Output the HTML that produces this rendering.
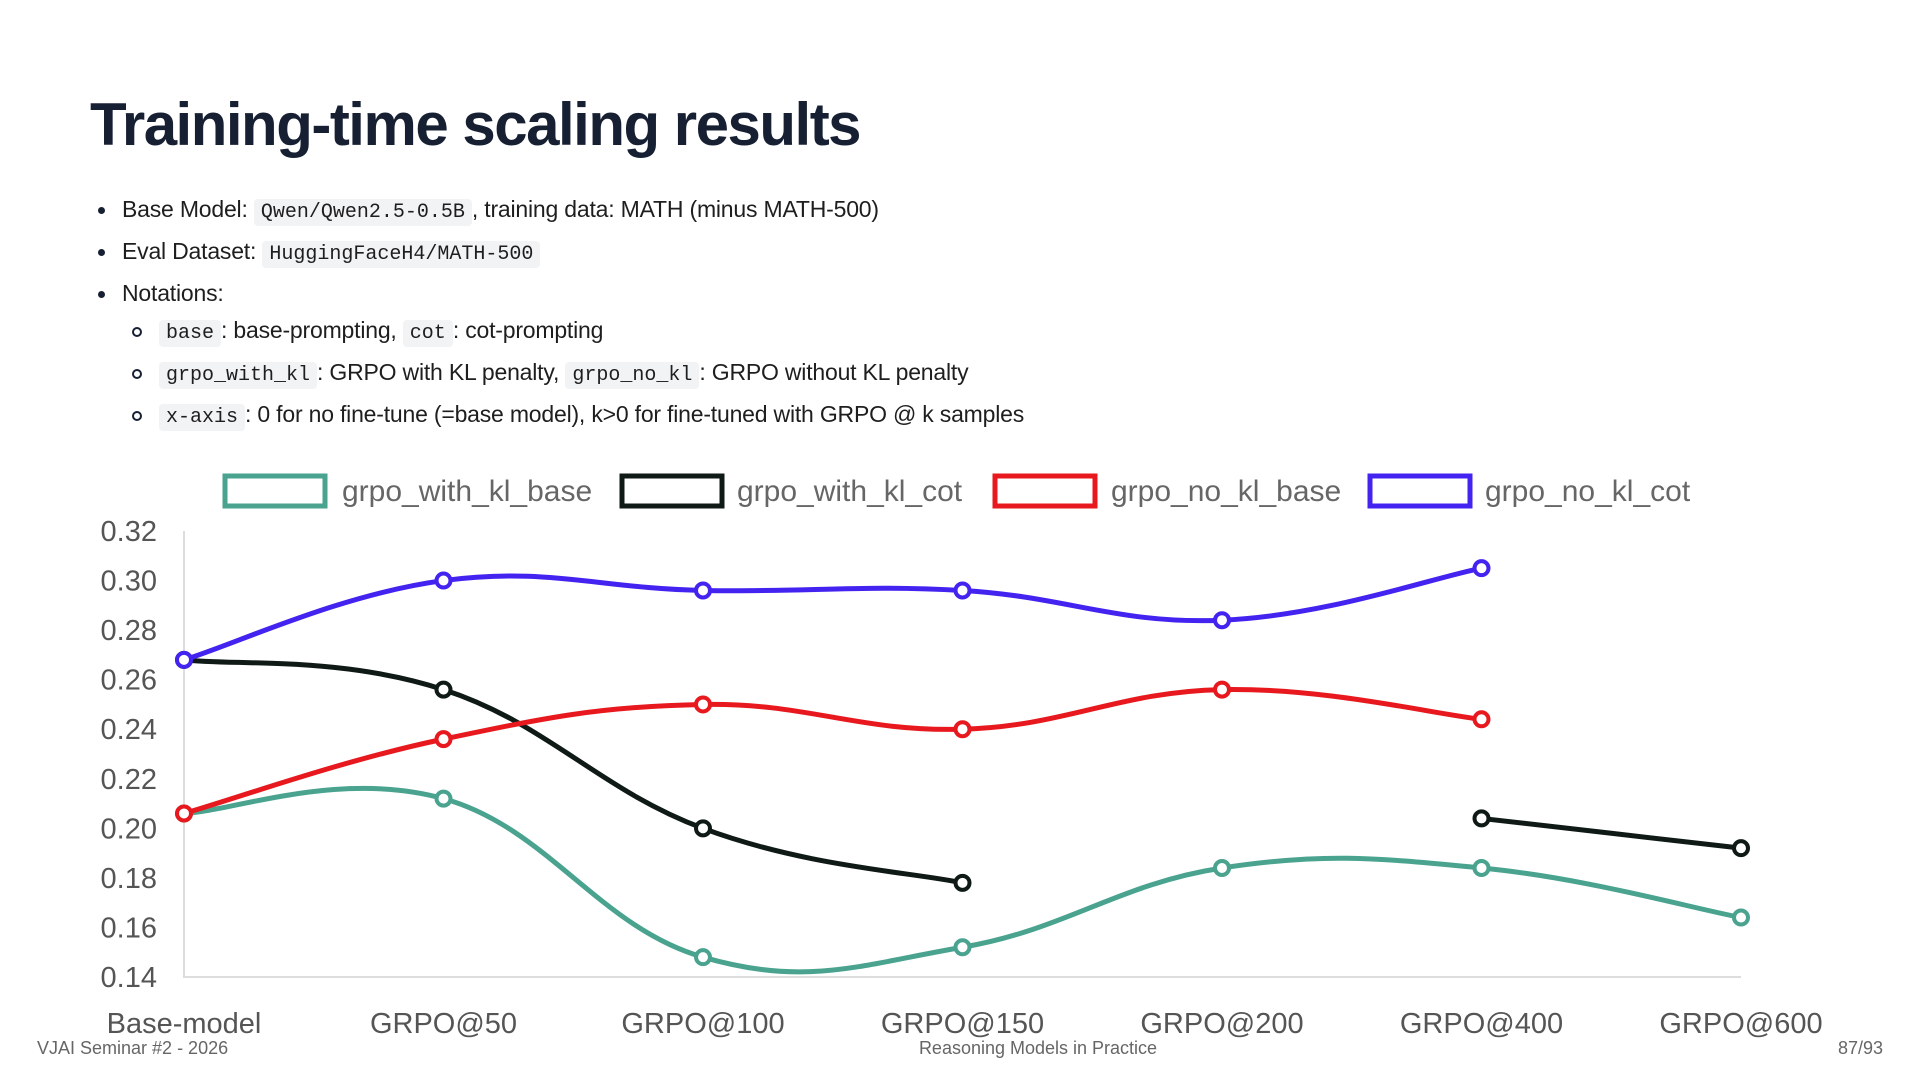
<!DOCTYPE html>
<html><head><meta charset="utf-8"><style>
body{margin:0;width:1920px;height:1080px;background:#fff;font-family:"Liberation Sans",sans-serif;position:relative;overflow:hidden}
h1{position:absolute;left:90px;top:90px;margin:0;font-size:60px;font-weight:bold;color:#172033;letter-spacing:-1.5px}
.b{position:absolute;font-size:23px;color:#1e1e1e;white-space:nowrap;letter-spacing:-0.2px}
code{font-family:"Liberation Mono",monospace;font-size:20px;background:#f1f3f5;padding:2px 7px;border-radius:4px;letter-spacing:0}
.dot{display:inline-block;width:7px;height:7px;border-radius:50%;background:#172033;margin-right:17px;vertical-align:middle}
.cir{display:inline-block;width:6px;height:6px;border-radius:50%;border:2px solid #172033;margin-right:17px;vertical-align:middle}
.f{position:absolute;top:1038px;font-size:18px;color:#666}
</style></head><body>
<h1>Training-time scaling results</h1>
<div class="b" style="left:98px;top:196px"><span class="dot"></span>Base Model: <code>Qwen/Qwen2.5-0.5B</code>, training data: MATH (minus MATH-500)</div>
<div class="b" style="left:98px;top:238px"><span class="dot"></span>Eval Dataset: <code>HuggingFaceH4/MATH-500</code></div>
<div class="b" style="left:98px;top:280px"><span class="dot"></span>Notations:</div>
<div class="b" style="left:132px;top:317px"><span class="cir"></span><code>base</code>: base-prompting, <code>cot</code>: cot-prompting</div>
<div class="b" style="left:132px;top:359px"><span class="cir"></span><code>grpo_with_kl</code>: GRPO with KL penalty, <code>grpo_no_kl</code>: GRPO without KL penalty</div>
<div class="b" style="left:132px;top:401px"><span class="cir"></span><code>x-axis</code>: 0 for no fine-tune (=base model), k&gt;0 for fine-tuned with GRPO @ k samples</div>
<svg id="chart" width="1920" height="1080" style="position:absolute;left:0;top:0"></svg>
<div class="f" style="left:37px">VJAI Seminar #2 - 2026</div>
<div class="f" style="left:0;width:2076px;text-align:center">Reasoning Models in Practice</div>
<div class="f" style="right:37px">87/93</div>
<script>
const categories=["Base-model","GRPO@50","GRPO@100","GRPO@150","GRPO@200","GRPO@400","GRPO@600"];
const yTicks=[0.14,0.16,0.18,0.20,0.22,0.24,0.26,0.28,0.30,0.32];
const seriesNames=["grpo_with_kl_base","grpo_with_kl_cot","grpo_no_kl_base","grpo_no_kl_cot"];
const seriesColors=["#4aa38f","#0f1a17","#e8191e","#4323f0"];
const withKlBase=[0.206,0.212,0.148,0.152,0.184,0.184,0.164];
const withKlCot=[0.268,0.256,0.200,0.178,null,0.204,0.192];
const noKlBase=[0.206,0.236,0.250,0.240,0.256,0.244,null];
const noKlCot=[0.268,0.300,0.296,0.296,0.284,0.305,null];
const allSeries=[withKlBase,withKlCot,noKlBase,noKlCot];
const NS="http://www.w3.org/2000/svg",svg=document.getElementById('chart');
const x0=184,xStep=259.5,yMin=0.14,yMax=0.32,yTop=531,yBot=977;
const X=i=>x0+i*xStep, Y=v=>yBot-(v-yMin)/(yMax-yMin)*(yBot-yTop);
function mk(t,a,p){const e=document.createElementNS(NS,t);for(const k in a)e.setAttribute(k,a[k]);(p||svg).appendChild(e);return e;}
const ax=mk('path',{d:`M${x0} ${yTop} V${yBot} H${X(6)}`,stroke:'#ddd','stroke-width':2,fill:'none'});


yTicks.forEach(v=>{const t=mk('text',{x:157,y:Y(v)+10,'text-anchor':'end','font-size':29,fill:'#555'});t.textContent=v.toFixed(2);

});
categories.forEach((c,i)=>{const t=mk('text',{x:X(i),y:1033,'text-anchor':'middle','font-size':29,fill:'#555'});t.textContent=c;

});
const legX=[[223,342],[620,737],[993,1111],[1368,1485]];
seriesNames.forEach((n,i)=>{const g=mk('g',{});


mk('rect',{x:legX[i][0]+2,y:476,width:100,height:30,fill:'#fff',stroke:seriesColors[i],'stroke-width':5},g);
const t=mk('text',{x:legX[i][1],y:501,'font-size':30,fill:'#666'},g);t.textContent=n;});
function seg(pts){let d=`M${pts[0][0]} ${pts[0][1]}`;const t=0.4;
for(let i=0;i<pts.length-1;i++){const p0=pts[i-1]||pts[i],p1=pts[i],p2=pts[i+1],p3=pts[i+2]||p2;
const c1=[p1[0]+(p2[0]-p0[0])*t/2,p1[1]+(p2[1]-p0[1])*t/2],c2=[p2[0]-(p3[0]-p1[0])*t/2,p2[1]-(p3[1]-p1[1])*t/2];
d+=` C${c1[0]} ${c1[1]} ${c2[0]} ${c2[1]} ${p2[0]} ${p2[1]}`;}return d;}
allSeries.forEach((s,si)=>{let segs=[],cur=[];s.forEach((v,i)=>{if(v==null){if(cur.length)segs.push(cur);cur=[];}else cur.push([X(i),Y(v)]);});if(cur.length)segs.push(cur);
segs.forEach(p=>{const l=mk('path',{d:seg(p),stroke:seriesColors[si],'stroke-width':5,fill:'none','stroke-linecap':'round'});

});
s.forEach((v,i)=>{if(v==null)return;const c=mk('circle',{cx:X(i),cy:Y(v),r:7,fill:'#fff',stroke:seriesColors[si],'stroke-width':4});

});});
</script>
</body></html>
